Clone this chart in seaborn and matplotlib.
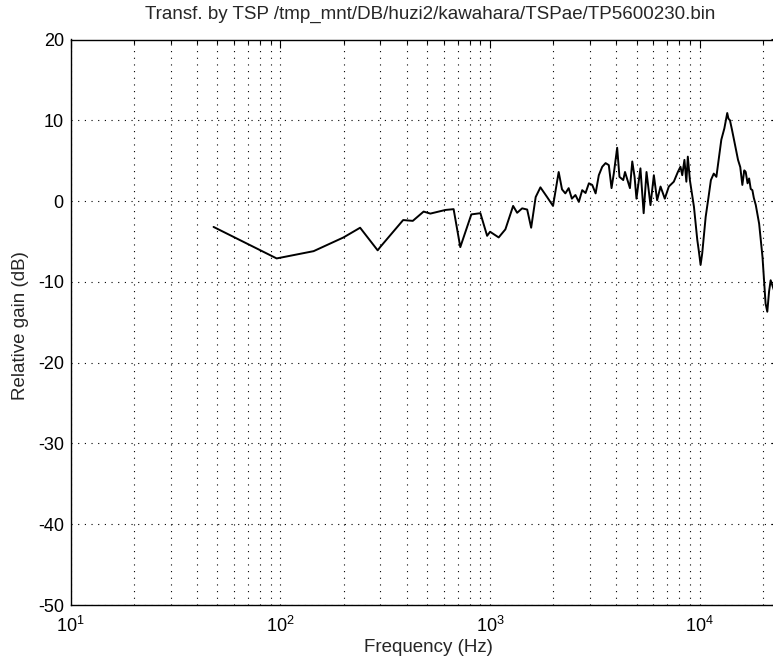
import matplotlib
matplotlib.use("Agg")
import matplotlib.pyplot as plt
import seaborn as sns
from matplotlib.ticker import LogLocator, NullFormatter, MultipleLocator

# data (frequency in Hz, gain in dB)
freq_hz = [48, 96, 144, 200, 240, 291, 299, 385, 428, 482, 519, 612, 670, 721,
           814, 899, 968, 1000, 1099, 1183, 1288, 1346, 1422, 1503, 1570, 1650,
           1738, 1870, 1996, 2124, 2203, 2285, 2370, 2455, 2553, 2650, 2750,
           2853, 2960, 3070, 3186, 3300, 3427, 3555, 3683, 3795, 3890, 4037,
           4140, 4315, 4400, 4645, 4765, 4887, 4990, 5212, 5400, 5572, 5820,
           6040, 6260, 6500, 6810, 7120, 7520, 7860, 8090, 8250, 8450, 8630,
           8770, 8970, 9380, 9730, 9900, 10090, 10270, 10670, 11010, 11300,
           11660, 12000, 12330, 12670, 13100, 13520, 13700, 13930, 14250,
           14560, 15220, 15600, 15960, 16300, 16560, 16900, 17190, 17500,
           17820, 18100, 18500, 19190, 19910, 20600, 20990, 21400, 21780, 22560]
gain_db = [-3.2, -7.1, -6.2, -4.5, -3.3, -6.1, -5.7, -2.35, -2.45, -1.3, -1.55,
           -1.1, -1.0, -5.7, -1.65, -1.5, -4.3, -3.8, -4.5, -3.5, -0.6, -1.45,
           -0.9, -1.05, -3.3, 0.5, 1.7, 0.5, -0.6, 3.6, 1.45, 0.95, 1.6, 0.3,
           0.75, -0.1, 1.35, 1.0, 2.2, 2.0, 0.95, 3.2, 4.25, 4.7, 4.45, 1.6,
           3.4, 6.6, 3.0, 2.6, 3.6, 1.6, 4.9, 3.0, 0.3, 4.05, -1.5, 3.6, -0.5,
           3.2, 0.1, 1.8, 0.3, 1.8, 2.4, 3.6, 4.25, 3.2, 5.1, 2.4, 5.5, 2.6,
           -0.7, -4.8, -6.2, -7.9, -6.5, -1.95, 0.5, 2.6, 3.4, 3.0, 5.3, 7.6,
           9.0, 10.9, 10.2, 10.0, 8.8, 7.6, 5.1, 4.2, 2.0, 3.8, 3.6, 2.2, 2.8,
           1.5, 1.35, 0.4, -0.5, -2.8, -6.9, -12.7, -13.7, -11.2, -9.8, -11.0]

sns.set_style("white")
plt.rcParams["font.family"] = ["Liberation Sans", "DejaVu Sans"]
plt.rcParams["mathtext.fontset"] = "custom"
plt.rcParams["mathtext.rm"] = "Liberation Sans"
plt.rcParams["axes.unicode_minus"] = False

fig = plt.figure(figsize=(7.73, 6.68), dpi=100)
ax = fig.add_axes([70.7 / 773, 63 / 668, (779.5 - 70.7) / 773, 565.5 / 668])

sns.lineplot(x=freq_hz, y=gain_db, ax=ax, color="black", linewidth=1.4,
             sort=False, estimator=None)

ax.set_xscale("log")
ax.set_xlim(10, 24000)
ax.set_ylim(-50, 20)
ax.yaxis.set_major_locator(MultipleLocator(10))
ax.xaxis.set_major_locator(LogLocator(base=10, numticks=10))
ax.xaxis.set_minor_locator(LogLocator(base=10, subs=range(2, 10), numticks=20))
ax.xaxis.set_minor_formatter(NullFormatter())

grid_style = dict(color="black", linestyle=(0, (1, 5)), linewidth=0.8)
ax.grid(True, which="major", axis="both", **grid_style)
ax.grid(True, which="minor", axis="x", **grid_style)

ax.tick_params(which="both", direction="in", top=True, right=True,
               labelsize=13, colors="black")
ax.tick_params(which="major", length=6, width=0.8)
ax.tick_params(which="minor", length=3, width=0.8)
ax.tick_params(axis="x", pad=8)
ax.tick_params(axis="y", pad=5)
for s in ax.spines.values():
    s.set_color("black")
    s.set_linewidth(1.0)

ax.set_xlabel("Frequency (Hz)", fontsize=13.5, va="center")
ax.set_ylabel("Relative gain (dB)", fontsize=13.5, va="center")
ax.xaxis.set_label_coords(0.505, -0.076)
ax.yaxis.set_label_coords(-0.0715, 0.495)
fig.text(430 / 773, 1 - 14 / 668,
         "Transf. by TSP /tmp_mnt/DB/huzi2/kawahara/TSPae/TP5600230.bin",
         ha="center", va="center", fontsize=13.5)

fig.savefig("out.png", dpi=100)
